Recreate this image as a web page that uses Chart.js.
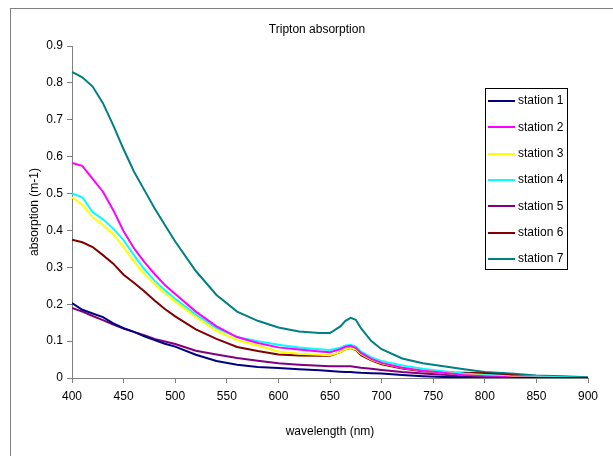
<!DOCTYPE html>
<html>
<head>
<meta charset="utf-8">
<script src="https://cdn.jsdelivr.net/npm/chart.js@4"></script>
<style>
  html, body { margin: 0; padding: 0; background: #fff; overflow: hidden; }
  #frame { position: absolute; left: 10px; top: 8px; width: 700px; height: 600px; border: 1px solid #808080; }
  #wrap { position: absolute; left: 0; top: 0; width: 613px; height: 456px; }
</style>
</head>
<body>
<div id="frame"></div>
<div id="wrap"><canvas id="c" width="613" height="456"></canvas></div>
<script>
const wavelengths = [400,410,420,430,440,450,460,470,480,490,500,520,540,560,580,600,620,640,650,660,665,670,675,680,690,700,720,740,760,780,800,825,850,875,900];
const station1 = [0.203,0.185,0.175,0.165,0.148,0.135,0.125,0.113,0.103,0.093,0.085,0.063,0.046,0.036,0.030,0.027,0.024,0.021,0.019,0.017,0.016,0.016,0.015,0.014,0.013,0.012,0.008,0.005,0.003,0.002,0.001,0,0,0,0];
const station2 = [0.583,0.575,0.540,0.505,0.455,0.398,0.352,0.315,0.282,0.252,0.228,0.180,0.140,0.111,0.095,0.083,0.077,0.072,0.070,0.078,0.085,0.087,0.082,0.068,0.052,0.041,0.028,0.020,0.014,0.008,0.005,0.002,0.001,0,0];
const station3 = [0.490,0.470,0.436,0.415,0.390,0.355,0.316,0.282,0.254,0.230,0.207,0.165,0.128,0.103,0.088,0.072,0.066,0.063,0.062,0.070,0.078,0.081,0.077,0.065,0.050,0.040,0.028,0.020,0.014,0.009,0.006,0.003,0.001,0,0];
const station4 = [0.500,0.490,0.450,0.430,0.405,0.374,0.333,0.295,0.264,0.238,0.215,0.172,0.135,0.111,0.100,0.090,0.083,0.078,0.076,0.082,0.088,0.090,0.085,0.072,0.056,0.046,0.034,0.025,0.018,0.012,0.008,0.005,0.004,0.002,0];
const station5 = [0.190,0.180,0.168,0.157,0.145,0.134,0.125,0.116,0.106,0.099,0.092,0.074,0.064,0.054,0.047,0.040,0.036,0.033,0.032,0.032,0.032,0.032,0.030,0.028,0.025,0.022,0.016,0.012,0.009,0.006,0.004,0.002,0,0,0];
const station6 = [0.375,0.368,0.355,0.333,0.310,0.280,0.258,0.235,0.210,0.187,0.167,0.132,0.106,0.084,0.073,0.064,0.061,0.060,0.060,0.070,0.078,0.081,0.076,0.062,0.048,0.037,0.026,0.018,0.015,0.014,0.013,0.008,0.002,0,0];
const station7 = [0.830,0.815,0.790,0.745,0.685,0.620,0.560,0.510,0.460,0.415,0.370,0.290,0.225,0.180,0.155,0.137,0.126,0.122,0.122,0.140,0.155,0.163,0.158,0.135,0.100,0.078,0.053,0.040,0.032,0.024,0.016,0.012,0.007,0.005,0.002];

const seriesNames = ['station 1','station 2','station 3','station 4','station 5','station 6','station 7'];
const seriesValues = [station1, station2, station3, station4, station5, station6, station7];
const seriesColors = ['#000080','#FF00FF','#FFFF00','#00FFFF','#800080','#800000','#008080'];

const chartTitle = 'Tripton absorption';
const xTitle = 'wavelength (nm)';
const yTitle = 'absorption (m-1)';
const FONT = '"Liberation Sans", Arial, sans-serif';

const datasets = seriesNames.map((name, i) => ({
  label: name,
  data: wavelengths.map((w, j) => ({x: w, y: seriesValues[i][j]})),
  borderColor: seriesColors[i],
  backgroundColor: seriesColors[i],
  borderWidth: 2,
  pointRadius: 0,
  tension: 0,
  fill: false
}));

const decor = {
  id: 'decor',
  afterDraw(chart) {
    const ctx = chart.ctx;
    ctx.save();
    ctx.fillStyle = '#000';
    ctx.font = '12px ' + FONT;
    ctx.textAlign = 'center';
    ctx.textBaseline = 'middle';
    ctx.fillText(chartTitle, 317, 30);
    ctx.fillText(xTitle, 330, 432);
    ctx.save();
    ctx.translate(35, 212);
    ctx.rotate(-Math.PI / 2);
    ctx.fillText(yTitle, 0, 0);
    ctx.restore();
    // legend
    const lx = 485, ly = 88, lw = 82, lh = 181;
    ctx.strokeStyle = '#000';
    ctx.lineWidth = 1;
    ctx.strokeRect(lx + 0.5, ly + 0.5, lw, lh);
    ctx.textAlign = 'left';
    chart.data.datasets.forEach((ds, i) => {
      const y = ly + 13 + i * 26.3;
      ctx.strokeStyle = ds.borderColor;
      ctx.lineWidth = 2;
      ctx.beginPath();
      ctx.moveTo(lx + 3, Math.round(y));
      ctx.lineTo(lx + 30, Math.round(y));
      ctx.stroke();
      ctx.fillStyle = '#000';
      ctx.fillText(ds.label, lx + 33, y);
    });
    ctx.restore();
  }
};

new Chart(document.getElementById('c'), {
  type: 'line',
  data: { datasets },
  options: {
    responsive: false,
    animation: false,
    events: [],
    layout: { padding: { top: 46, right: 25, left: 0, bottom: 0 } },
    plugins: { legend: { display: false }, title: { display: false }, tooltip: { enabled: false } },
    scales: {
      x: {
        type: 'linear', min: 400, max: 900,
        afterFit(s) { s.height = 78; },
        ticks: { stepSize: 50, color: '#000', font: { family: FONT, size: 12 }, padding: 6, maxRotation: 0 },
        grid: { display: true, drawOnChartArea: false, drawTicks: true, tickLength: 5, color: '#808080' },
        border: { display: true, color: '#808080', width: 1 }
      },
      y: {
        min: 0, max: 0.9,
        afterFit(s) { s.width = 72; },
        ticks: { stepSize: 0.1, color: '#000', font: { family: FONT, size: 12 }, padding: 4,
          callback: v => (Math.round(v * 10) / 10).toString() },
        grid: { display: true, drawOnChartArea: false, drawTicks: true, tickLength: 5, color: '#808080' },
        border: { display: true, color: '#808080', width: 1 }
      }
    }
  },
  plugins: [decor]
});
</script>
</body>
</html>
